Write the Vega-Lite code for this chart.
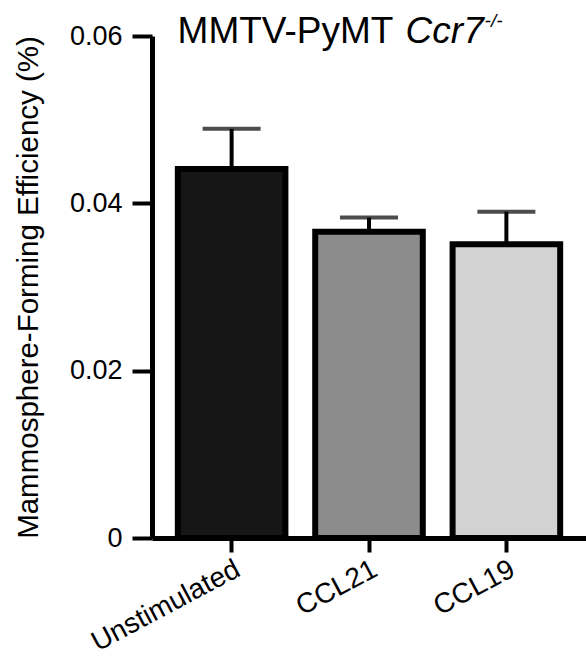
{
  "$schema": "https://vega.github.io/schema/vega-lite/v6.json",
  "autosize": "none",
  "padding": {"left": 152, "top": 36, "right": 0, "bottom": 123},
  "width": 434,
  "height": 502,
  "background": "white",
  "config": {
    "font": "Liberation Sans",
    "view": {"stroke": null}
  },
  "data": {
    "values": [
      {"group": "Unstimulated", "value": 0.0441, "upper": 0.0489, "shade": "black"},
      {"group": "CCL21", "value": 0.0366, "upper": 0.0383, "shade": "mid"},
      {"group": "CCL19", "value": 0.0351, "upper": 0.0390, "shade": "light"}
    ]
  },
  "encoding": {
    "x": {
      "field": "group",
      "type": "nominal",
      "sort": null,
      "scale": {"paddingInner": 0.217, "paddingOuter": 0.188},
      "axis": {
        "title": null,
        "domainColor": "black",
        "domainWidth": 5,
        "tickColor": "black",
        "tickWidth": 4,
        "tickSize": 14,
        "labelAngle": -28,
        "labelAlign": "right",
        "labelBaseline": "top",
        "labelDx": 12,
        "labelPadding": 3,
        "labelFontSize": 28,
        "labelColor": "black"
      }
    }
  },
  "layer": [
    {
      "mark": {"type": "bar", "stroke": "black", "strokeWidth": 6},
      "encoding": {
        "y": {
          "field": "value",
          "type": "quantitative",
          "scale": {"domain": [0, 0.06], "nice": false},
          "axis": {
            "title": "Mammosphere-Forming Efficiency (%)",
            "titleFontSize": 29.5,
            "titleFontWeight": "normal",
            "titleColor": "black",
            "titlePadding": 26,
            "values": [0, 0.02, 0.04, 0.06],
            "labelExpr": "datum.value == 0 ? '0' : format(datum.value, '.2f')",
            "labelFontSize": 27,
            "labelColor": "black",
            "labelPadding": 10,
            "tickSize": 20,
            "tickWidth": 4,
            "tickColor": "black",
            "domainColor": "black",
            "domainWidth": 5,
            "grid": false
          }
        },
        "fill": {
          "field": "shade",
          "type": "nominal",
          "scale": {"domain": ["black", "mid", "light"], "range": ["#161616", "#8c8c8c", "#d2d2d2"]},
          "legend": null
        }
      }
    },
    {
      "mark": {"type": "rule", "color": "black", "strokeWidth": 4},
      "encoding": {
        "y": {"field": "value", "type": "quantitative"},
        "y2": {"field": "upper"}
      }
    },
    {
      "mark": {"type": "tick", "color": "black", "size": 58, "thickness": 4},
      "encoding": {
        "y": {"field": "upper", "type": "quantitative"}
      }
    },
    {
      "data": {"values": [{"part": "MMTV-PyMT", "group": "Unstimulated", "level": 0.06}]},
      "mark": {"type": "text", "fontSize": 37, "align": "left", "baseline": "alphabetic", "dx": -54, "dy": 7, "color": "black"},
      "encoding": {
        "y": {"field": "level", "type": "quantitative"},
        "text": {"field": "part"}
      }
    },
    {
      "data": {"values": [{"part": "Ccr7", "group": "Unstimulated", "level": 0.06}]},
      "mark": {"type": "text", "fontSize": 37, "fontStyle": "italic", "align": "left", "baseline": "alphabetic", "dx": 174, "dy": 7, "color": "black"},
      "encoding": {
        "y": {"field": "level", "type": "quantitative"},
        "text": {"field": "part"}
      }
    },
    {
      "data": {"values": [{"part": "-/-", "group": "Unstimulated", "level": 0.06}]},
      "mark": {"type": "text", "fontSize": 19, "fontStyle": "italic", "align": "left", "baseline": "alphabetic", "dx": 253, "dy": -9, "color": "black"},
      "encoding": {
        "y": {"field": "level", "type": "quantitative"},
        "text": {"field": "part"}
      }
    }
  ]
}
